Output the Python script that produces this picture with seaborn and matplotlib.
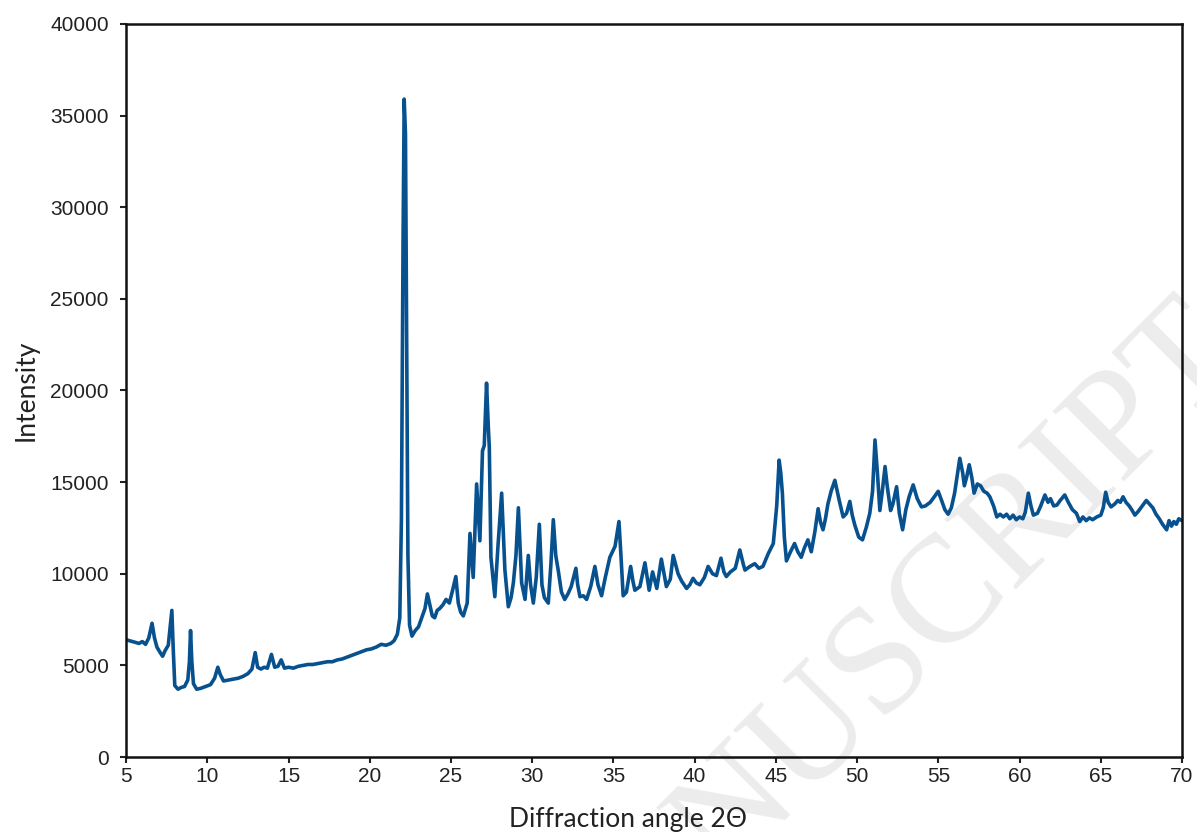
import numpy as np
import pandas as pd
import matplotlib.pyplot as plt
import seaborn as sns

# XRD pattern
two_theta = [
    5.0, 5.2, 5.4, 5.6, 5.8, 6.0, 6.2, 6.4, 6.6, 6.75, 6.9, 7.1, 7.25, 7.4, 7.6, 7.75, 7.82, 7.9,
    8.0, 8.2, 8.4, 8.6, 8.8, 8.9, 8.97, 9.05, 9.15, 9.35, 9.6, 9.9, 10.2, 10.45, 10.65, 10.8,
    11.0, 11.3, 11.6, 11.9, 12.2, 12.5, 12.75, 12.95, 13.1, 13.3, 13.5, 13.7, 13.95, 14.15,
    14.35, 14.55, 14.75, 15.0, 15.3, 15.6, 15.9, 16.2, 16.5, 16.8, 17.1, 17.4, 17.7, 18.0,
    18.3, 18.6, 18.9, 19.2, 19.5, 19.8, 20.1, 20.4, 20.7, 21.0, 21.3, 21.5, 21.7, 21.85,
    21.95, 22.05, 22.12, 22.2, 22.28, 22.35, 22.45, 22.6, 22.8, 23.0, 23.2, 23.4, 23.55,
    23.7, 23.85, 24.0, 24.15, 24.3, 24.5, 24.7, 24.9, 25.1, 25.3, 25.45, 25.6, 25.76, 25.9,
    26.0, 26.17, 26.37, 26.58, 26.78, 26.94, 27.05, 27.19, 27.3, 27.36, 27.46, 27.7, 27.9,
    28.12, 28.32, 28.53, 28.7, 28.84, 29.0, 29.15, 29.35, 29.56, 29.76, 29.9, 30.07, 30.25,
    30.44, 30.6, 30.75, 30.99, 31.15, 31.3, 31.45, 31.6, 31.8, 32.0, 32.2, 32.4, 32.69,
    32.8, 32.94, 33.15, 33.35, 33.6, 33.86, 34.05, 34.27, 34.5, 34.78, 35.1, 35.34, 35.45,
    35.6, 35.8, 36.06, 36.2, 36.32, 36.63, 36.94, 37.2, 37.41, 37.67, 37.95, 38.26, 38.5,
    38.68, 38.98, 39.2, 39.5, 39.7, 39.9, 40.1, 40.32, 40.6, 40.83, 41.1, 41.34, 41.62,
    41.8, 41.95, 42.2, 42.5, 42.78, 43.0, 43.1, 43.4, 43.7, 43.95, 44.2, 44.53, 44.84,
    45.05, 45.2, 45.3, 45.4, 45.52, 45.65, 45.9, 46.15, 46.35, 46.56, 46.75, 46.97, 47.18,
    47.4, 47.6, 47.75, 47.9, 48.05, 48.2, 48.4, 48.63, 48.9, 49.14, 49.35, 49.55, 49.7,
    49.86, 50.1, 50.33, 50.57, 50.78, 50.95, 51.1, 51.25, 51.4, 51.55, 51.72, 51.85, 52.06,
    52.2, 52.43, 52.6, 52.8, 53.0, 53.2, 53.45, 53.7, 53.96, 54.2, 54.5, 54.75, 54.99,
    55.2, 55.4, 55.6, 55.8, 56.0, 56.15, 56.32, 56.5, 56.6, 56.75, 56.9, 57.05, 57.2, 57.4,
    57.6, 57.8, 58.0, 58.17, 58.4, 58.6, 58.8, 59.0, 59.2, 59.4, 59.6, 59.8, 60.0, 60.2,
    60.35, 60.54, 60.7, 60.85, 61.1, 61.3, 61.56, 61.75, 61.9, 62.1, 62.3, 62.5, 62.78,
    63.0, 63.25, 63.5, 63.7, 63.9, 64.1, 64.3, 64.5, 64.75, 65.0, 65.15, 65.3, 65.45,
    65.63, 65.85, 66.05, 66.2, 66.37, 66.55, 66.75, 66.9, 67.1, 67.3, 67.55, 67.8, 68.0,
    68.2, 68.4, 68.6, 68.8, 69.05, 69.2, 69.35, 69.5, 69.65, 69.8, 70.0,
]
intensity = [
    6400, 6350, 6300, 6250, 6200, 6300, 6150, 6500, 7300, 6500, 6000, 5700, 5500, 5800, 6100, 7400, 8000, 6000,
    3900, 3700, 3800, 3850, 4200, 5200, 6900, 5200, 4000, 3700, 3750, 3850, 3950, 4300, 4900, 4500,
    4150, 4200, 4250, 4300, 4400, 4550, 4800, 5700, 4900, 4800, 4900, 4850, 5600, 4900,
    4950, 5300, 4850, 4900, 4850, 4950, 5000, 5050, 5050, 5100, 5150, 5200, 5200, 5300,
    5350, 5450, 5550, 5650, 5750, 5850, 5900, 6000, 6150, 6100, 6200, 6350, 6700, 7600,
    13000, 28000, 35900, 34000, 22000, 11000, 7200, 6600, 6900, 7100, 7600, 8100, 8900,
    8300, 7700, 7600, 8000, 8100, 8300, 8600, 8400, 9100, 9850, 8400, 7900, 7700, 8100,
    8400, 12200, 9800, 14900, 11800, 16700, 17000, 20400, 18000, 16900, 10900, 8750, 11600,
    14400, 10200, 8200, 8700, 9500, 11000, 13600, 9500, 8600, 11000, 9400, 8400, 9800,
    12700, 9400, 8700, 8400, 10500, 12950, 11000, 10200, 9000, 8600, 8900, 9300, 10300,
    9400, 8750, 8800, 8600, 9300, 10400, 9400, 8800, 9800, 10900, 11500, 12850, 11200,
    8800, 9000, 10400, 9600, 9100, 9300, 10600, 9100, 10100, 9200, 10800, 9300, 9700,
    11000, 10000, 9600, 9200, 9400, 9750, 9500, 9400, 9800, 10400, 10000, 9900, 10850,
    10100, 9850, 10100, 10300, 11300, 10500, 10200, 10400, 10550, 10300, 10400, 11100, 11650,
    13700, 16200, 15500, 14400, 12000, 10700, 11200, 11650, 11200, 10900, 11400, 11850, 11200,
    12300, 13550, 12800, 12400, 13000, 13800, 14500, 15100, 14000, 13100, 13300, 13950, 13200,
    12650, 12000, 11850, 12550, 13300, 14500, 17300, 15500, 13450, 14500, 15850, 14800, 13450,
    13800, 14750, 13300, 12400, 13500, 14200, 14850, 14100, 13650, 13700, 13900, 14200, 14500,
    14000, 13500, 13250, 13600, 14400, 15300, 16300, 15500, 14800, 15300, 15950, 15300, 14400, 14900,
    14800, 14500, 14400, 14200, 13700, 13100, 13250, 13100, 13250, 13000, 13200, 12950, 13100, 13000,
    13350, 14400, 13700, 13200, 13300, 13700, 14300, 13900, 14100, 13700, 13750, 14000, 14300,
    13900, 13500, 13300, 12850, 13100, 12900, 13050, 12950, 13100, 13200, 13600, 14450, 13900,
    13650, 13800, 14000, 13900, 14200, 13900, 13700, 13500, 13200, 13400, 13700, 14000, 13800,
    13600, 13250, 13000, 12700, 12400, 12900, 12600, 12850, 12700, 13000, 12900,
]

x_ticks = [5, 10, 15, 20, 25, 30, 35, 40, 45, 50, 55, 60, 65, 70]
y_ticks = [0, 5000, 10000, 15000, 20000, 25000, 30000, 35000, 40000]

df = pd.DataFrame({'two_theta': two_theta, 'intensity': intensity})

sns.set_style('ticks')
plt.rcParams['font.family'] = ['Liberation Sans', 'DejaVu Sans']

fig = plt.figure(figsize=(11.97, 8.32), dpi=100)
ax = fig.add_axes([0.1053, 0.0901, 0.8822, 0.8811])
ax.set_facecolor('none')

sns.lineplot(data=df, x='two_theta', y='intensity', ax=ax, color='#07518f',
             linewidth=2.6, sort=False)

ax.set_xlim(5, 70)
ax.set_ylim(0, 40000)
ax.set_xticks(x_ticks)
ax.set_yticks(y_ticks)
ax.tick_params(axis='both', direction='out', length=4.5, width=1.5, labelsize=15,
               colors='#222222')
ax.tick_params(axis='x', pad=3)
ax.tick_params(axis='y', pad=8)
for s in ax.spines.values():
    s.set_visible(True)
    s.set_linewidth(1.8)
    s.set_color('#111111')

ax.set_xlabel('Diffraction angle 2Θ', fontsize=19, family=['Lato', 'DejaVu Sans'],
              color='#222222', labelpad=15, x=0.475)
ax.set_ylabel('Intensity', fontsize=19, family=['Lato', 'DejaVu Sans'],
              color='#222222', labelpad=8)

# faint watermark left over from the source document
fig.text(1.02, 0.60, 'ACCEPTED MANUSCRIPT', rotation=45, ha='right', va='center',
         fontsize=110, family=['Liberation Serif'], color='#ececec', zorder=-5,
         rotation_mode='anchor')

fig.savefig('out.png', dpi=100)
